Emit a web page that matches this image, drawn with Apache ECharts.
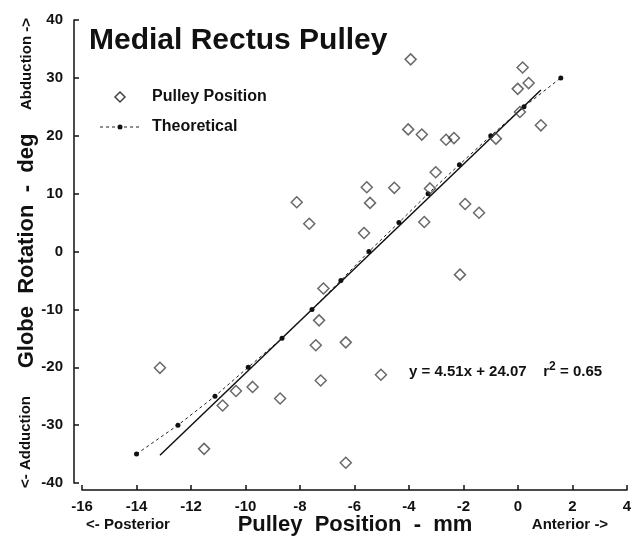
<!DOCTYPE html>
<html>
<head>
<meta charset="utf-8">
<script src="https://cdn.jsdelivr.net/npm/echarts@6/dist/echarts.min.js"></script>
<style>html,body{margin:0;padding:0;background:#fff;}#c{width:636px;height:539px;}</style>
</head>
<body>
<div id="c"></div>
<script>
// Pulley position (mm) and globe rotation (deg) for each measured pulley
const pulleyX = [-3.94,-4.03,-3.53,-2.64,-3.02,-5.55,-4.54,-8.12,-7.66,-5.43,-5.65,-3.44,-7.14,-3.23,-1.94,-1.43,-2.13,0.17,-0.01,0.39,0.07,0.84,-0.81,-2.35,-13.14,-10.84,-10.35,-9.74,-8.73,-11.52,-7.30,-7.42,-6.32,-7.24,-5.03,-6.32];
const pulleyY = [33.2,21.1,20.2,19.3,13.7,11.1,11.0,8.5,4.8,8.4,3.2,5.1,-6.4,10.9,8.2,6.7,-4.0,31.8,28.1,29.1,24.1,21.8,19.5,19.6,-20.1,-26.6,-24.1,-23.4,-25.4,-34.1,-11.9,-16.2,-15.7,-22.3,-21.3,-36.5];
// Theoretical curve
const theoX = [-14,-12.48,-11.12,-9.9,-8.66,-7.56,-6.5,-5.47,-4.37,-3.3,-2.15,-1.0,0.22,1.57];
const theoY = [-35,-30,-25,-20,-15,-10,-5,0,5,10,15,20,25,30];
// Regression line endpoints (y = 4.51x + 24.07)
const fitX = [-13.14, 0.84];
const fitY = [-35.2, 27.9];
const xTicks = [-16,-14,-12,-10,-8,-6,-4,-2,0,2,4];
const yTicks = [-40,-30,-20,-10,0,10,20,30,40];
const eqText = 'y = 4.51x + 24.07';
const r2Text = '0.65';

const FONT = '"Liberation Sans", Arial, Helvetica, sans-serif';
const zip = (a,b) => a.map((v,i)=>[v,b[i]]);

const chart = echarts.init(document.getElementById('c'), null, {renderer:'canvas'});
chart.setOption({
  animation:false,
  backgroundColor:'#fff',
  grid:{left:82,right:9,top:20,bottom:56},
  xAxis:{
    type:'value', min:xTicks[0], max:xTicks[xTicks.length-1], interval:2, offset:7,
    axisLine:{show:true,onZero:false,lineStyle:{color:'#111',width:1.5}},
    axisTick:{show:true,inside:true,length:5,lineStyle:{color:'#111',width:1.5}},
    axisLabel:{margin:9,color:'#111',fontSize:15,fontWeight:'bold',fontFamily:FONT},
    splitLine:{show:false}
  },
  yAxis:{
    type:'value', min:yTicks[0], max:yTicks[yTicks.length-1], interval:10, offset:8,
    axisLine:{show:true,onZero:false,lineStyle:{color:'#111',width:1.5}},
    axisTick:{show:true,inside:true,length:5,lineStyle:{color:'#111',width:1.5}},
    axisLabel:{margin:11,color:'#111',fontSize:15,fontWeight:'bold',fontFamily:FONT},
    splitLine:{show:false}
  },
  series:[
    {type:'line',name:'Fit',data:zip(fitX,fitY),symbol:'none',
      lineStyle:{color:'#111',width:1.5},z:2},
    {type:'line',name:'Theoretical',data:zip(theoX,theoY),symbol:'circle',symbolSize:5,
      itemStyle:{color:'#111'},lineStyle:{color:'#222',width:1,type:[3,3]},z:3},
    {type:'scatter',name:'Pulley Position',data:zip(pulleyX,pulleyY),symbol:'diamond',symbolSize:11,
      itemStyle:{color:'rgba(255,255,255,0)',borderColor:'#444',borderWidth:1.5},z:4}
  ],
  graphic:[
    {type:'text',left:89,top:26,style:{text:'Medial Rectus Pulley',fontSize:30,fontWeight:'bold',fontFamily:FONT,fill:'#111'}},
    // legend
    {type:'polygon',shape:{points:[[120,92],[125,97],[120,102],[115,97]]},style:{fill:'#fff',stroke:'#444',lineWidth:1.5}},
    {type:'text',left:152,top:89,style:{text:'Pulley Position',fontSize:16,fontWeight:'bold',fontFamily:FONT,fill:'#111'}},
    {type:'line',shape:{x1:100,y1:127,x2:140,y2:127},style:{stroke:'#222',lineWidth:1,lineDash:[3,3]}},
    {type:'circle',shape:{cx:120,cy:127,r:2.5},style:{fill:'#111'}},
    {type:'text',left:152,top:119,style:{text:'Theoretical',fontSize:16,fontWeight:'bold',fontFamily:FONT,fill:'#111'}},
    // equation
    {type:'text',left:409,top:361,style:{
      text:'{a|'+eqText+'    r}{s|2}{a| = '+r2Text+'}',
      rich:{a:{fontSize:15,fontWeight:'bold',fontFamily:FONT,fill:'#111',verticalAlign:'bottom'},
            s:{fontSize:12,fontWeight:'bold',fontFamily:FONT,fill:'#111',verticalAlign:'top',padding:[0,0,6,0]}}}},
    // x axis titles
    {type:'text',x:355,y:525,style:{text:'Pulley  Position  -  mm',fontSize:22,fontWeight:'bold',fontFamily:FONT,fill:'#111',textAlign:'center',textVerticalAlign:'middle'}},
    {type:'text',x:128,y:525,style:{text:'<- Posterior',fontSize:15,fontWeight:'bold',fontFamily:FONT,fill:'#111',textAlign:'center',textVerticalAlign:'middle'}},
    {type:'text',x:570,y:525,style:{text:'Anterior ->',fontSize:15,fontWeight:'bold',fontFamily:FONT,fill:'#111',textAlign:'center',textVerticalAlign:'middle'}},
    // y axis titles
    {type:'text',x:27,y:251,rotation:Math.PI/2,style:{text:'Globe  Rotation  -  deg',fontSize:22,fontWeight:'bold',fontFamily:FONT,fill:'#111',textAlign:'center',textVerticalAlign:'middle'}},
    {type:'text',x:27,y:64,rotation:Math.PI/2,style:{text:'Abduction ->',fontSize:15,fontWeight:'bold',fontFamily:FONT,fill:'#111',textAlign:'center',textVerticalAlign:'middle'}},
    {type:'text',x:26,y:442,rotation:Math.PI/2,style:{text:'<- Adduction',fontSize:15,fontWeight:'bold',fontFamily:FONT,fill:'#111',textAlign:'center',textVerticalAlign:'middle'}}
  ]
});
</script>
</body>
</html>
